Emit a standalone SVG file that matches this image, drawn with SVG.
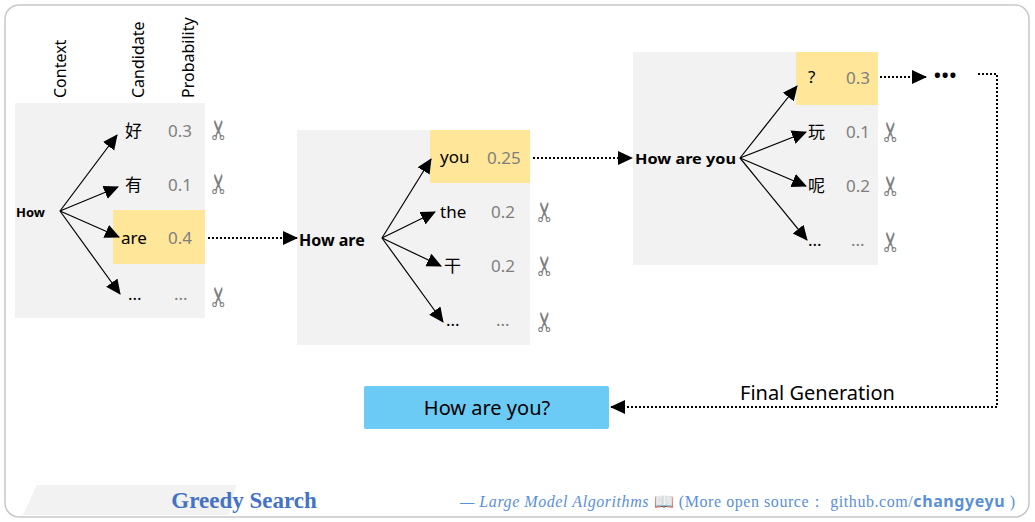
<svg xmlns="http://www.w3.org/2000/svg" width="1035" height="522" viewBox="0 0 1035 522">
<defs>
<marker id="ah2" markerWidth="16" markerHeight="16" refX="14" refY="8" orient="auto" markerUnits="userSpaceOnUse" viewBox="0 0 16 16"><path d="M0,1 L15,8 L0,15 Z" fill="#000"/></marker>
<text id="sc" class="sc" transform="rotate(-90)" text-anchor="middle" x="0" y="9">✂</text>
</defs>
<style>
.box{fill:#f2f2f2}
.hl{fill:#ffe699}
.t{font-family:"Noto Sans","Noto Sans CJK SC",sans-serif;font-size:17px;fill:#000}
.p{font-family:"Noto Sans",sans-serif;font-size:17px;fill:#7f7f7f}
.sc{font-family:"DejaVu Sans",sans-serif;font-size:27px;fill:#7f7f7f}
.b{font-family:"Noto Sans",sans-serif;font-weight:bold;fill:#000}
.hd{font-family:"Noto Sans",sans-serif;font-size:16px;fill:#000}
.ln{stroke:#000;stroke-width:1.2;fill:none;marker-end:url(#ah2)}
.dt{stroke:#000;stroke-width:2;stroke-dasharray:2,2;fill:none;marker-end:url(#ah2)}
</style>
<rect x="5" y="5" width="1024" height="512" rx="14" fill="#fff" stroke="#c8c8c8" stroke-width="1.5"/>
<g id="headers">
<text class="hd" transform="translate(66,98) rotate(-90)">Context</text>
<text class="hd" transform="translate(144,98) rotate(-90)">Candidate</text>
<text class="hd" transform="translate(194,98) rotate(-90)">Probability</text>
</g>
<g id="step1">
<rect class="box" x="15" y="103" width="190" height="215"/>
<rect class="hl" x="113" y="210" width="92" height="54"/>
<text class="b" x="16" y="217" font-size="13">How</text>
<text class="t" x="125" y="137">好</text><text class="p" x="168" y="137">0.3</text><use href="#sc" x="219" y="130"/>
<text class="t" x="125" y="191">有</text><text class="p" x="168" y="191">0.1</text><use href="#sc" x="219" y="184"/>
<text class="t" x="121" y="244">are</text><text class="p" x="168" y="244">0.4</text>
<text class="t" x="128" y="300">...</text><text class="p" x="174" y="300">...</text><use href="#sc" x="219" y="297"/>
</g>
<g id="step2">
<rect class="box" x="297" y="130" width="233" height="215"/>
<rect class="hl" x="430" y="130" width="100" height="53"/>
<text class="b" x="299" y="246" font-size="16">How are</text>
<text class="t" x="440" y="163" font-size="15">you</text><text class="p" x="487" y="164">0.25</text>
<text class="t" x="440" y="218">the</text><text class="p" x="491" y="218">0.2</text><use href="#sc" x="545" y="212"/>
<text class="t" x="444" y="272">干</text><text class="p" x="491" y="272">0.2</text><use href="#sc" x="545" y="266"/>
<text class="t" x="446" y="326">...</text><text class="p" x="496" y="326">...</text><use href="#sc" x="545" y="322"/>
</g>
<g id="step3">
<rect class="box" x="633" y="52" width="245" height="213"/>
<rect class="hl" x="796" y="52" width="82" height="53"/>
<text class="b" x="635" y="164" font-size="15" textLength="101" lengthAdjust="spacingAndGlyphs">How are you</text>
<text class="t" x="808" y="83">?</text><text class="p" x="846" y="84">0.3</text>
<text class="t" x="808" y="138">玩</text><text class="p" x="846" y="138">0.1</text><use href="#sc" x="891" y="132"/>
<text class="t" x="808" y="192">呢</text><text class="p" x="846" y="192">0.2</text><use href="#sc" x="891" y="186"/>
<text class="t" x="808" y="246">...</text><text class="p" x="851" y="246">...</text><use href="#sc" x="891" y="242"/>
<text class="b" x="934" y="82" font-size="18" letter-spacing="1">•••</text>
</g>
<g id="result">
<rect x="364" y="386" width="245" height="43" rx="2" fill="#6ccbf4"/>
<text x="487" y="415" text-anchor="middle" font-family="Noto Sans,sans-serif" font-size="20">How are you?</text>
<text x="740" y="400" font-family="Noto Sans,sans-serif" font-size="20">Final Generation</text>
</g>
<g id="connectors">
<path class="ln" d="M60,211 L117,135"/>
<path class="ln" d="M60,211 L118,187"/>
<path class="ln" d="M60,211 L119,237"/>
<path class="ln" d="M60,211 L120,294"/>
<path class="dt" d="M208,238 L297,238"/>
<path class="ln" d="M382,238 L431,159"/>
<path class="ln" d="M382,238 L435,212"/>
<path class="ln" d="M382,238 L441,266"/>
<path class="ln" d="M382,238 L443,322"/>
<path class="dt" d="M533,158 L632,158"/>
<path class="ln" d="M740,158 L797,86"/>
<path class="ln" d="M740,158 L806,132"/>
<path class="ln" d="M740,158 L806,186"/>
<path class="ln" d="M740,158 L807,240"/>
<path class="dt" d="M880,77 L926,77"/>
<path class="dt" d="M978,74 L997,74 L997,407 L611,407"/>
</g>
<g id="footer">
<polygon points="23,515 37,485 236,485 229,515" fill="#f2f2f2"/>
<text x="244" y="508" text-anchor="middle" font-family="Liberation Serif,serif" font-weight="bold" font-size="23" fill="#4472c4">Greedy Search</text>
<text x="460" y="507" font-family="Liberation Serif,serif" font-size="16" fill="#5b8fd6" textLength="555" lengthAdjust="spacing"><tspan font-style="italic">— Large Model Algorithms</tspan> 📖 (More open source：  github.com/<tspan font-weight="bold" font-family="Noto Sans,sans-serif">changyeyu</tspan> )</text>
</g>
</svg>
